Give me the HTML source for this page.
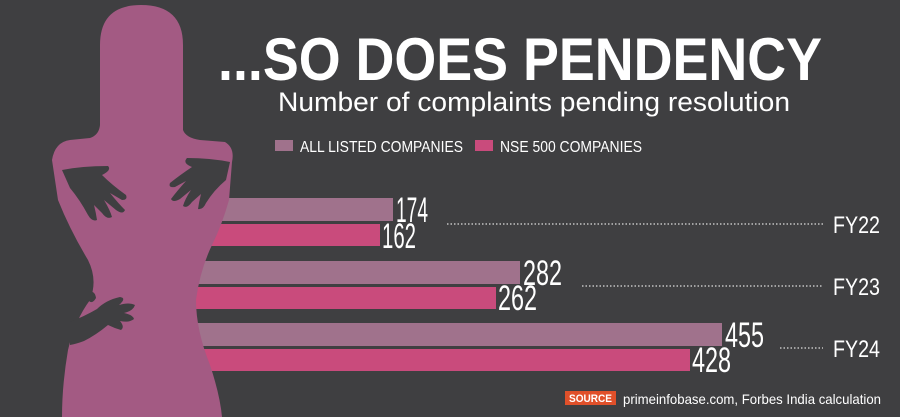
<!DOCTYPE html>
<html><head><style>
body{margin:0;width:900px;height:417px;overflow:hidden;background:#3f3f41;font-family:"Liberation Sans",sans-serif}
svg{display:block}
</style></head><body>
<svg width="900" height="417" viewBox="0 0 900 417" xmlns="http://www.w3.org/2000/svg">
<rect width="900" height="417" fill="#3f3f41"/>
<g>
<rect x="190" y="198" width="203" height="23" fill="#a0728c"/>
<rect x="190" y="224" width="190" height="22" fill="#c94b7c"/>
<rect x="190" y="261" width="330" height="23" fill="#a0728c"/>
<rect x="190" y="287" width="306" height="22" fill="#c94b7c"/>
<rect x="190" y="323" width="532" height="23" fill="#a0728c"/>
<rect x="190" y="349" width="500" height="22" fill="#c94b7c"/>
</g>
<path fill="#a35a83" d="M100 45 Q100 5 141 5 Q183 5 183 45 L183 130 Q186 138 200 140 L225 142 Q235 148 232 162 L229 200 Q222 225 212 245 Q200 270 196 300 Q196 330 210 365 Q220 395 222 417 L62 417 Q62 385 68 350 Q75 320 90 300 Q98 280 88 260 Q70 230 58 200 L52 160 Q55 142 70 140 L90 138 Q99 135 100 125 Z"/>
<g fill="#3f3f41">
<path d="M62 170 Q82 166 108 166 Q112 170 102 175 Q112 185 126 195 Q128 200 122 200 L110 193 Q118 203 125 210 Q123 215 116 210 L104 200 Q110 210 112 217 Q107 220 102 213 L94 205 Q96 213 97 220 Q92 222 88 215 Q80 200 70 188 Z"/>
<path d="M230 162 Q210 158 187 158 Q182 163 192 167 Q180 175 170 183 Q168 188 175 187 L186 181 Q177 191 171 199 Q173 203 180 199 L191 190 Q185 199 183 206 Q187 209 192 202 L201 194 Q199 202 198 209 Q203 210 206 203 Q214 190 226 180 Z"/>
<path d="M70 322 Q85 316 97 309 Q106 300 120 297 Q127 298 119 305 Q129 302 135 305 Q133 311 124 313 Q133 315 134 319 Q129 323 120 321 Q125 327 121 330 Q114 328 108 325 Q96 335 84 341 Q76 344 70 345 Z"/>
<path d="M88 292 Q95 290 96 298 Q92 305 88 300 Z"/>
</g>
<text x="218" y="80" fill="#fff" font-weight="bold" font-size="60" textLength="604" lengthAdjust="spacingAndGlyphs">...SO DOES PENDENCY</text>
<text x="278" y="111" fill="#fff" font-size="27" textLength="512" lengthAdjust="spacingAndGlyphs">Number of complaints pending resolution</text>
<rect x="275" y="140" width="18" height="11" fill="#a0728c"/>
<text x="300" y="152" fill="#fff" font-size="16" textLength="163" lengthAdjust="spacingAndGlyphs">ALL LISTED COMPANIES</text>
<rect x="475" y="140" width="18" height="11" fill="#c94b7c"/>
<text x="500" y="152" fill="#fff" font-size="16" textLength="142" lengthAdjust="spacingAndGlyphs">NSE 500 COMPANIES</text>
<g fill="#fff" font-size="35">
<text x="396" y="222" textLength="32" lengthAdjust="spacingAndGlyphs">174</text>
<text x="382" y="248" textLength="34" lengthAdjust="spacingAndGlyphs">162</text>
<text x="523" y="285" textLength="39" lengthAdjust="spacingAndGlyphs">282</text>
<text x="498" y="310" textLength="39" lengthAdjust="spacingAndGlyphs">262</text>
<text x="725" y="347" textLength="39" lengthAdjust="spacingAndGlyphs">455</text>
<text x="692" y="372" textLength="39" lengthAdjust="spacingAndGlyphs">428</text>
</g>
<g stroke="#ddd" stroke-width="1.2" stroke-dasharray="1.5 2">
<line x1="447" y1="224" x2="823" y2="224"/>
<line x1="582" y1="286" x2="823" y2="286"/>
<line x1="780" y1="348" x2="823" y2="348"/>
</g>
<g fill="#fff" font-size="24">
<text x="833" y="233" textLength="47" lengthAdjust="spacingAndGlyphs">FY22</text>
<text x="833" y="295" textLength="47" lengthAdjust="spacingAndGlyphs">FY23</text>
<text x="833" y="357" textLength="47" lengthAdjust="spacingAndGlyphs">FY24</text>
</g>
<rect x="565" y="391" width="51" height="14" fill="#e0502a"/>
<text x="569" y="402" fill="#fff" font-size="11" font-weight="bold" textLength="43" lengthAdjust="spacingAndGlyphs">SOURCE</text>
<text x="623" y="404" fill="#fff" font-size="14" textLength="258" lengthAdjust="spacingAndGlyphs">primeinfobase.com, Forbes India calculation</text>
</svg>
</body></html>
